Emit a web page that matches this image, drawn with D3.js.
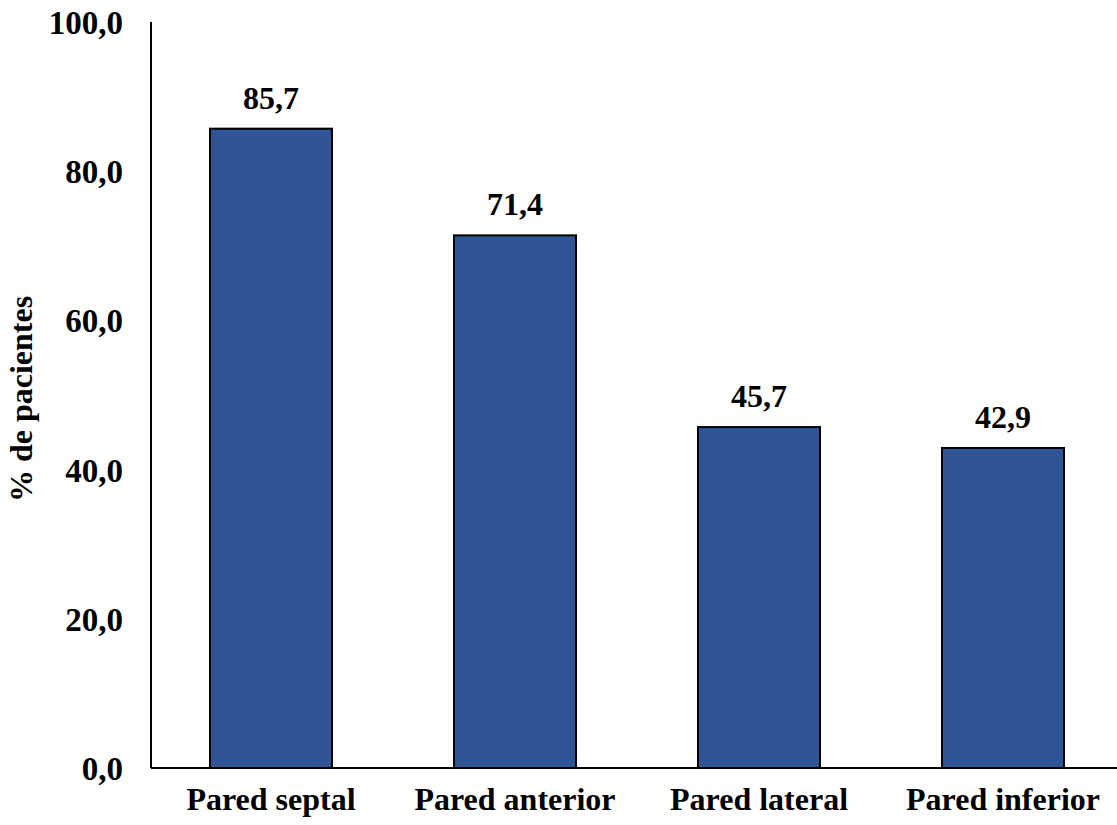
<!DOCTYPE html>
<html>
<head>
<meta charset="utf-8">
<script src="https://cdn.jsdelivr.net/npm/d3@7"></script>
<style>
  html, body { margin: 0; padding: 0; background: #fff; }
  svg text { font-family: "Liberation Serif", "Times New Roman", serif; font-weight: bold; fill: #000; }
</style>
</head>
<body>
<svg id="chart" width="1117" height="825"></svg>
<script>
// Affected wall segments and share of patients (%)
const categories = ["Pared septal", "Pared anterior", "Pared lateral", "Pared inferior"];
const values = [85.7, 71.4, 45.7, 42.9];
const yTicks = [0, 20, 40, 60, 80, 100];
const yTitle = "% de pacientes";

const svg = d3.select("#chart");
const width = 1117, height = 825;
const axisX = 151;
const margin = { left: 149, right: -8, top: 22, bottom: 57 };
const fmt = v => d3.format(".1f")(v).replace(".", ",");

const x = d3.scaleBand()
  .domain(categories)
  .range([margin.left, width - margin.right])
  .paddingInner(0.5)
  .paddingOuter(0.25);

const y = d3.scaleLinear()
  .domain([0, 100])
  .range([height - margin.bottom, margin.top]);

// Bars
svg.append("g")
  .selectAll("rect")
  .data(values)
  .join("rect")
  .attr("x", (d, i) => x(categories[i]))
  .attr("y", d => y(d))
  .attr("width", x.bandwidth())
  .attr("height", d => y(0) - y(d))
  .attr("fill", "#2F5597")
  .attr("stroke", "#000")
  .attr("stroke-width", 2);

// Value labels
svg.append("g")
  .selectAll("text")
  .data(values)
  .join("text")
  .attr("x", (d, i) => x(categories[i]) + x.bandwidth() / 2)
  .attr("y", d => y(d) - 20)
  .attr("text-anchor", "middle")
  .style("font-size", "32px")
  .text(d => fmt(d));

// Y axis
const yAxis = svg.append("g")
  .attr("transform", `translate(${axisX},0)`)
  .call(d3.axisLeft(y).tickValues(yTicks).tickSize(0).tickPadding(28).tickFormat(fmt));
yAxis.select(".domain").attr("stroke", "#000").attr("stroke-width", 2).attr("d", `M0,${y(100)}V${y(0)}`);
yAxis.selectAll("text").style("font-size", "33px").attr("dy", "0.35em");

// X axis
const xAxis = svg.append("g")
  .attr("transform", `translate(0,${y(0)})`)
  .call(d3.axisBottom(x).tickSize(0).tickPadding(19));
xAxis.select(".domain").attr("stroke", "#000").attr("stroke-width", 2).attr("d", `M${axisX},0H${width}`);
xAxis.selectAll("text").style("font-size", "32px");

// Y title
svg.append("text")
  .attr("transform", `translate(32,399) rotate(-90)`)
  .attr("text-anchor", "middle")
  .style("font-size", "32px")
  .text(yTitle);
</script>
</body>
</html>
